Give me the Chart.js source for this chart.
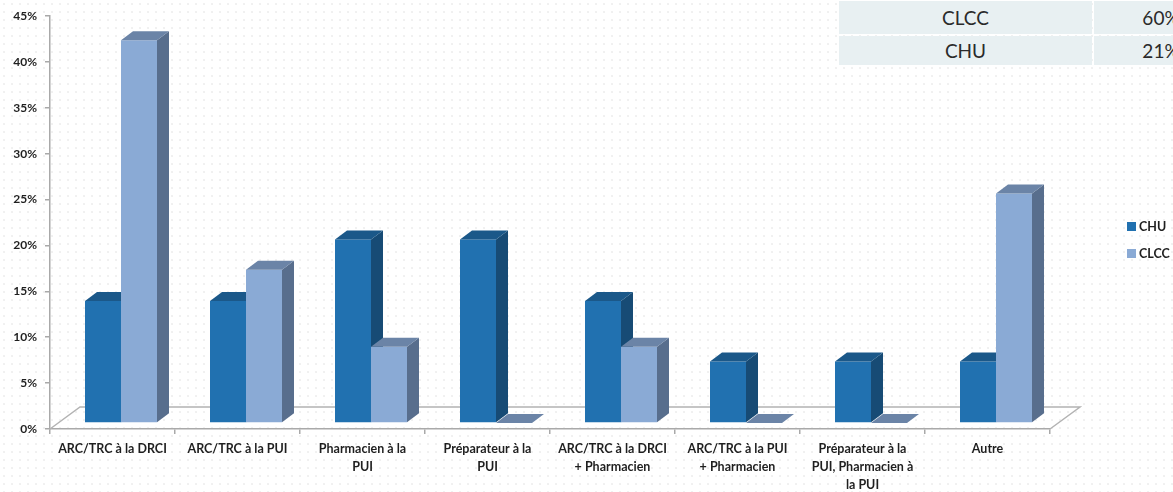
<!DOCTYPE html>
<html lang="fr">
<head>
<meta charset="utf-8">
<title>Répartition CHU / CLCC</title>
<script src="https://cdn.jsdelivr.net/npm/chart.js@4/dist/chart.umd.min.js"></script>
<style>
  html, body { margin: 0; padding: 0; }
  body {
    width: 1173px; height: 492px; overflow: hidden; position: relative;
    background-color: #ffffff;
    background-image: radial-gradient(circle, #f0f0f0 0.7px, transparent 1.1px);
    background-size: 8px 8px;
  }
  #chart { position: absolute; left: 0; top: 0; }
  .cell {
    position: absolute; background: #e8f0f2; color: #2a2a2a;
    font-family: Lato, "Open Sans", sans-serif; font-size: 19px;
    display: flex; align-items: center; justify-content: center;
  }
</style>
</head>
<body>
<canvas id="chart" width="1173" height="492"></canvas>
<div id="table"></div>
<script>
// Categories (x axis), multi-line labels as arrays
const categories = [
  'ARC/TRC à la DRCI',
  'ARC/TRC à la PUI',
  ['Pharmacien à la', 'PUI'],
  ['Préparateur à la', 'PUI'],
  ['ARC/TRC à la DRCI', '+ Pharmacien'],
  ['ARC/TRC à la PUI', '+ Pharmacien'],
  ['Préparateur à la', 'PUI, Pharmacien à', 'la PUI'],
  'Autre'
];

// Share of respondents per answer, in percent
const chuValues  = [13.3, 13.3, 20, 20, 13.3, 6.7, 6.7, 6.7];
const clccValues = [41.7, 16.7, 8.3, 0, 8.3, 0, 0, 25];

// Value axis ticks
const yTicks = [0, 5, 10, 15, 20, 25, 30, 35, 40, 45];

// Summary table (top right)
const tableLabels = ['CLCC', 'CHU'];
const tableValues = ['60%', '21%'];

// Face colours for the 3D columns: front, side, top
const faces = {
  CHU:  { front: '#2171b0', side: '#174b75', top: '#1b5889' },
  CLCC: { front: '#8aaad5', side: '#586e8d', top: '#6b84a7' }
};

// Build the summary table
(function () {
  const host = document.getElementById('table');
  const rows = [{ top: 1, h: 33 }, { top: 36, h: 29 }];
  tableLabels.forEach((lab, i) => {
    const r = rows[i];
    const a = document.createElement('div');
    a.className = 'cell';
    a.style.cssText = `left:839px;top:${r.top}px;width:253px;height:${r.h}px;`;
    a.textContent = lab;
    host.appendChild(a);
    const b = document.createElement('div');
    b.className = 'cell';
    b.style.cssText = `left:1094px;top:${r.top}px;width:134px;height:${r.h}px;`;
    b.textContent = tableValues[i];
    host.appendChild(b);
  });
})();

const FONT = 'Lato, "Open Sans", sans-serif';
const BAR_OFF = { x: 8.5, y: -6 };   // columns stand a little behind the front edge
const BAR_DEPTH = { x: 12, y: -9 };  // depth of each column
const FLOOR_DEPTH = { x: 30, y: -22 };

const column3d = {
  id: 'column3d',
  beforeDatasetsDraw(chart) {
    const ctx = chart.ctx;
    const area = chart.chartArea;
    // floor outline
    ctx.save();
    ctx.strokeStyle = '#b3b3b3';
    ctx.lineWidth = 1.5;
    ctx.beginPath();
    ctx.moveTo(area.left, area.bottom);
    ctx.lineTo(area.left + FLOOR_DEPTH.x, area.bottom + FLOOR_DEPTH.y);
    ctx.lineTo(area.right + FLOOR_DEPTH.x, area.bottom + FLOOR_DEPTH.y);
    ctx.lineTo(area.right, area.bottom);
    ctx.stroke();

    const n = chart.data.labels.length;
    for (let i = 0; i < n; i++) {
      chart.data.datasets.forEach((ds, d) => {
        const el = chart.getDatasetMeta(d).data[i];
        if (!el) return;
        const c = faces[ds.label];
        const w = el.width;
        const l = el.x - w / 2 + BAR_OFF.x;
        const r = el.x + w / 2 + BAR_OFF.x;
        const t = el.y + BAR_OFF.y;
        const b = el.base + BAR_OFF.y;
        const dx = BAR_DEPTH.x, dy = BAR_DEPTH.y;
        // front
        ctx.fillStyle = c.front;
        ctx.fillRect(l, t, r - l, b - t);
        // side
        ctx.fillStyle = c.side;
        ctx.beginPath();
        ctx.moveTo(r, t); ctx.lineTo(r + dx, t + dy);
        ctx.lineTo(r + dx, b + dy); ctx.lineTo(r, b);
        ctx.closePath(); ctx.fill();
        // top
        ctx.fillStyle = c.top;
        ctx.beginPath();
        ctx.moveTo(l, t); ctx.lineTo(l + dx, t + dy);
        ctx.lineTo(r + dx, t + dy); ctx.lineTo(r, t);
        ctx.closePath(); ctx.fill();
      });
    }
    ctx.restore();
    return false; // columns are fully drawn above
  },
  afterDraw(chart) {
    // legend on the right
    const ctx = chart.ctx;
    ctx.save();
    ctx.font = 'bold 12.5px ' + FONT;
    ctx.textBaseline = 'middle';
    ctx.textAlign = 'left';
    chart.data.datasets.forEach((ds, d) => {
      const y = 222 + d * 27;
      ctx.fillStyle = ds.backgroundColor;
      ctx.fillRect(1127, y, 9, 9);
      ctx.fillStyle = '#1f1f1f';
      ctx.fillText(ds.label, 1139, y + 5);
    });
    ctx.restore();
  }
};

new Chart(document.getElementById('chart'), {
  type: 'bar',
  data: {
    labels: categories,
    datasets: [
      { label: 'CHU', data: chuValues, backgroundColor: faces.CHU.front },
      { label: 'CLCC', data: clccValues, backgroundColor: faces.CLCC.front }
    ]
  },
  options: {
    responsive: false,
    animation: false,
    devicePixelRatio: 1,
    categoryPercentage: 0.576,
    barPercentage: 1,
    layout: { padding: { left: 0, right: 123, top: 16, bottom: 0 } },
    plugins: { legend: { display: false }, tooltip: { enabled: false } },
    scales: {
      x: {
        grid: { offset: true, drawOnChartArea: false, tickLength: 5, color: '#a9a9a9', lineWidth: 1.5 },
        border: { color: '#a9a9a9', width: 1.5 },
        ticks: {
          maxRotation: 0, minRotation: 0, autoSkip: false, padding: 6,
          color: '#1f1f1f', font: { family: FONT, size: 12.5, weight: 'bold', lineHeight: 1.45 }
        },
        afterFit(s) { s.height = 63; }
      },
      y: {
        min: 0, max: 45,
        afterBuildTicks(s) { s.ticks = yTicks.map(v => ({ value: v })); },
        grid: { drawOnChartArea: false, tickLength: 5, color: '#a9a9a9', lineWidth: 1.5 },
        border: { color: '#a9a9a9', width: 1.5 },
        ticks: {
          padding: 8, color: '#1f1f1f',
          font: { family: FONT, size: 12, weight: 'bold' },
          callback: v => v + '%'
        },
        afterFit(s) { s.width = 50; }
      }
    }
  },
  plugins: [column3d]
});
</script>
</body>
</html>
